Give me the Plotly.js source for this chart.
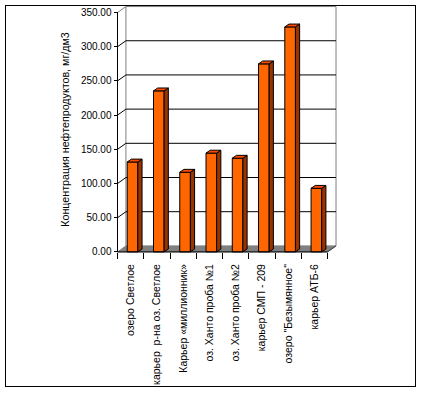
<!DOCTYPE html>
<html><head><meta charset="utf-8">
<script src="https://cdn.plot.ly/plotly-3.0.1.min.js"></script>
<style>
html,body{margin:0;padding:0;background:#fff;}
#wrap{position:relative;width:422px;height:393px;}
#chart{width:422px;height:393px;}
#frame{position:absolute;left:5px;top:5px;width:409px;height:380px;border:1px solid #000;pointer-events:none;}
</style></head><body>
<div id="wrap"><div id="chart"></div><div id="frame"></div></div>
<script>
const categories = [
  "озеро Светлое",
  "карьер  р-на оз. Светлое",
  "Карьер «миллионник»",
  "оз. Ханто проба №1",
  "оз. Ханто проба №2",
  "карьер СМП - 209",
  "озеро \"Безымянное\"",
  "карьер АТБ-6"
];
const values = [131.5, 235.5, 116.5, 144.5, 137, 275, 329, 93];
const yTickValues = [0, 50, 100, 150, 200, 250, 300, 350];
const yTitle = "Концентрация нефтепродуктов, мг/дм3";

// geometry (styling)
const xMin = -0.9, xMax = 8.2, yMin = -6, yMax = 364;
const Dx = 0.32, Dy = 8.8;        // wall depth
const bdx = 0.16, bdy = 4.2;      // bar depth
const barW = 0.405, barOff = -0.13;

const xs = categories.map((_, i) => i);
const x0 = -0.5, x1 = categories.length - 0.5;
const yTop = yTickValues[yTickValues.length - 1];
const boundaries = categories.map((_, i) => i - 0.5).concat([x1]);

const sideX = [], sideY = [], topX = [], topY = [];
values.forEach((v, i) => {
  const l = i + barOff, r = i + barOff + barW;
  sideX.push(r, r + bdx, r + bdx, r, r, null);
  sideY.push(0, bdy, v + bdy, v, 0, null);
  topX.push(l, l + bdx, r + bdx, r, l, null);
  topY.push(v, v + bdy, v + bdy, v, v, null);
});

const traces = [
  {type: 'bar', x: xs, y: values, width: barW, offset: barOff,
   marker: {color: '#FF6600', line: {color: '#000', width: 1}},
   hoverinfo: 'skip', showlegend: false},
  {type: 'scatter', mode: 'lines', x: sideX, y: sideY, fill: 'toself',
   fillcolor: '#993300', line: {color: '#000', width: 1}, hoverinfo: 'skip', showlegend: false},
  {type: 'scatter', mode: 'lines', x: topX, y: topY, fill: 'toself',
   fillcolor: '#FF4A00', line: {color: '#000', width: 1}, hoverinfo: 'skip', showlegend: false}
];

const shapes = [];
const ln = (xa, ya, xb, yb, color, layer) => shapes.push({type: 'line', xref: 'x', yref: 'y', x0: xa, y0: ya, x1: xb, y1: yb, layer: layer || 'below', line: {color: color, width: 1}});
// floor
shapes.push({type: 'path', xref: 'x', yref: 'y', layer: 'below',
  path: `M ${x0},0 L ${x1},0 L ${x1 + Dx},${Dy} L ${x0 + Dx},${Dy} Z`,
  fillcolor: '#808080', line: {color: '#808080', width: 1}});
// back wall borders
ln(x0 + Dx, Dy, x0 + Dx, yTop + Dy, '#808080');
ln(x0 + Dx, yTop + Dy, x1 + Dx, yTop + Dy, '#808080');
ln(x1 + Dx, Dy, x1 + Dx, yTop + Dy, '#808080');
ln(x0, yTop, x0 + Dx, yTop + Dy, '#808080');
// gridlines
yTickValues.slice(1, -1).forEach(v => {
  ln(x0, v, x0 + Dx, v + Dy, '#000');
  ln(x0 + Dx, v + Dy, x1 + Dx, v + Dy, '#000');
});
// axis lines
ln(x0, 0, x0, yTop, '#000', 'above');
ln(x0, 0, x1, 0, '#000', 'above');
ln(x1, 0, x1 + Dx, Dy, '#404040');

const font = {family: '"Liberation Sans", Arial, sans-serif', size: 10, color: '#000'};
const xFont = Object.assign({}, font, {size: 10.5});
const titleFont = Object.assign({}, font, {size: 10.7});

const layout = {
  width: 422, height: 393,
  margin: {l: 107, r: 76, t: 3, b: 137, pad: 0},
  paper_bgcolor: '#fff', plot_bgcolor: 'rgba(0,0,0,0)',
  font: font,
  showlegend: false,
  xaxis: {range: [xMin, xMax], anchor: 'free', position: (0 - yMin) / (yMax - yMin),
    tickmode: 'array', tickvals: xs, ticktext: categories, tickangle: -90,
    ticks: 'outside', ticklen: 7, tickcolor: 'rgba(0,0,0,0)',
    minor: {tickmode: 'array', tickvals: boundaries, ticks: 'outside', ticklen: 6, tickcolor: '#000', tickwidth: 1, showgrid: false},
    showgrid: false, zeroline: false, showline: false, tickfont: xFont, fixedrange: true},
  yaxis: {range: [yMin, yMax], anchor: 'free', position: (x0 - xMin) / (xMax - xMin),
    tickmode: 'array', tickvals: yTickValues, tickformat: '.2f',
    ticks: 'outside', ticklen: 4, tickcolor: '#000',
    showgrid: false, zeroline: false, showline: false, tickfont: font, fixedrange: true,
    title: {text: yTitle, font: titleFont, standoff: 8}},
  shapes: shapes
};

Plotly.newPlot('chart', traces, layout, {displayModeBar: false, staticPlot: true});
</script>
</body></html>
